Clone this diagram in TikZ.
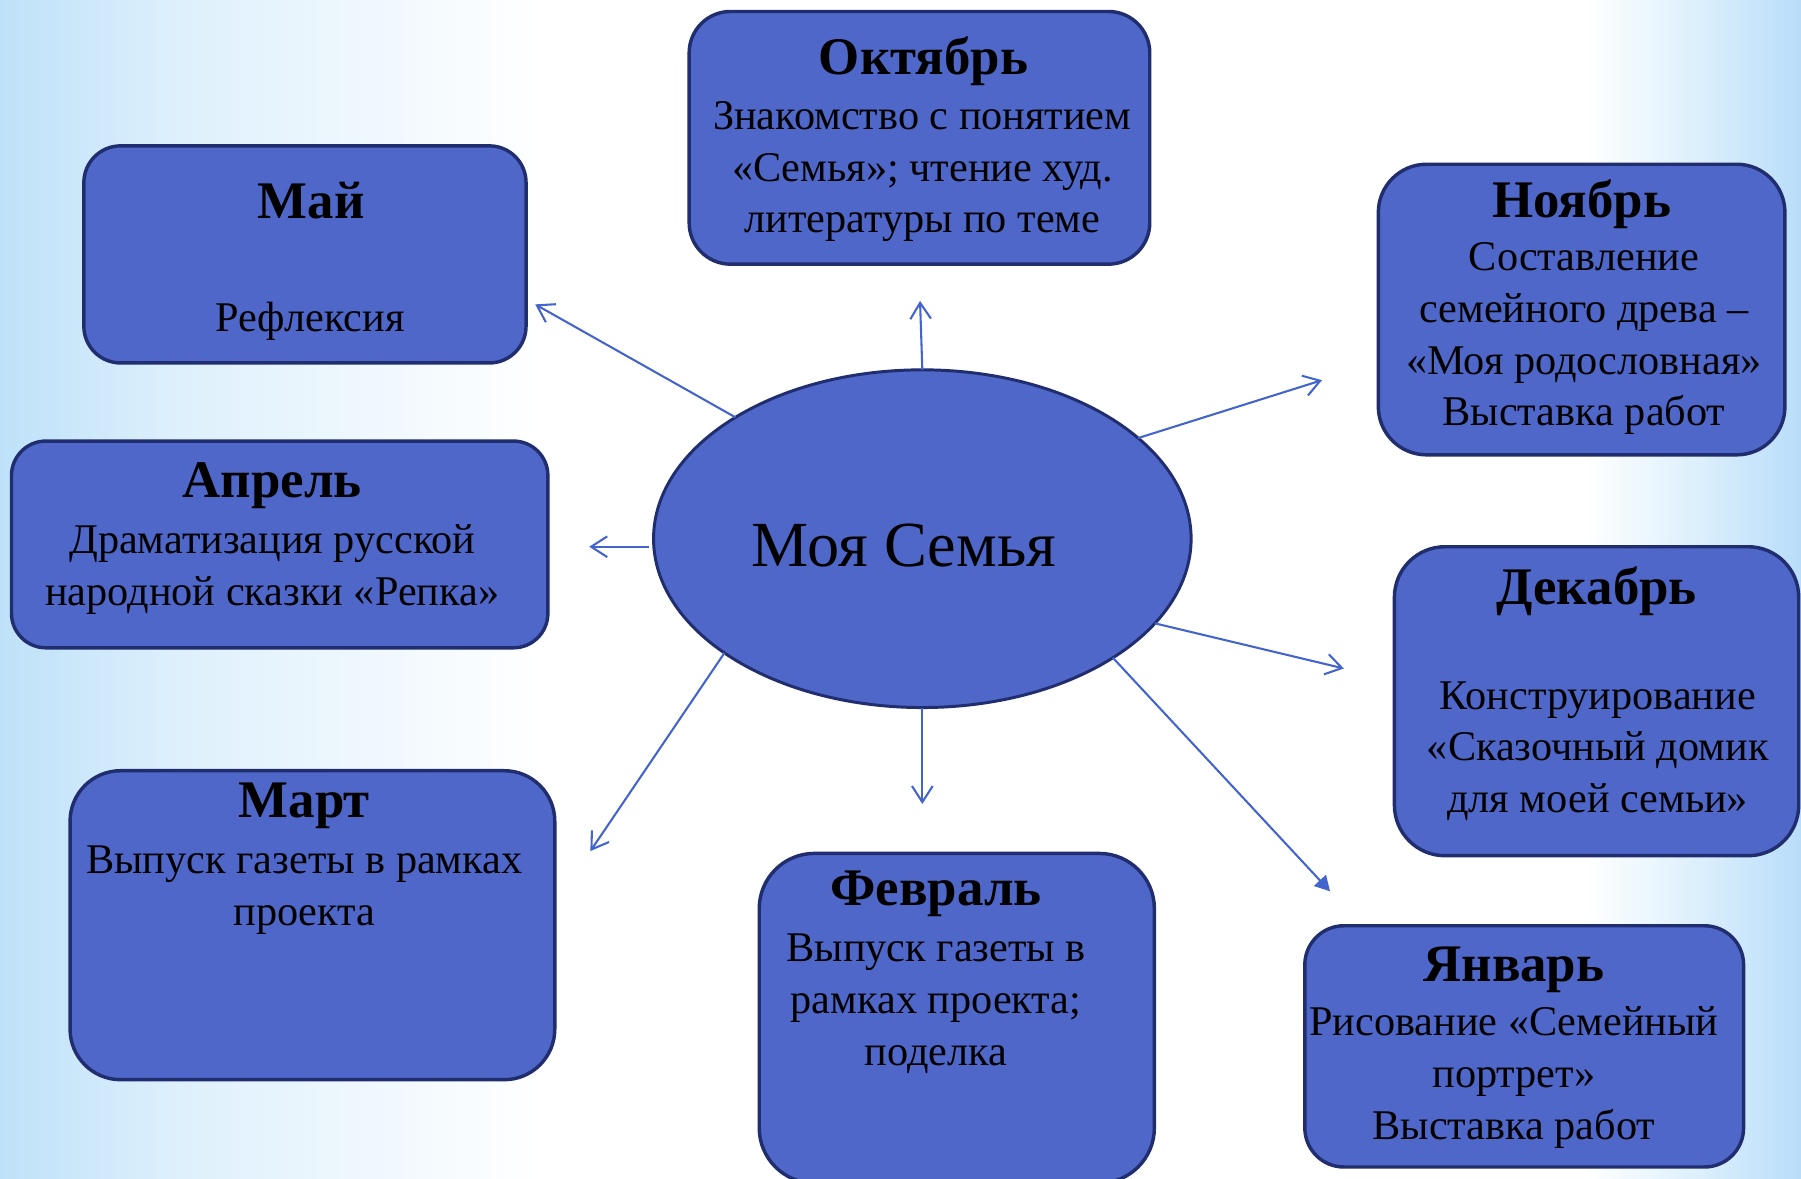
\documentclass[tikz,border=0pt]{standalone}
\usepackage{fontspec}
\setmainfont{Liberation Serif}
\usetikzlibrary{arrows.meta,shapes.geometric,fadings}
\definecolor{boxfill}{RGB}{79,103,200}
\definecolor{boxline}{RGB}{32,46,112}
\definecolor{arrowc}{RGB}{68,100,205}
\definecolor{bgL}{RGB}{190,225,249}
\definecolor{bgL2}{RGB}{222,240,252}
\definecolor{bgR}{RGB}{184,221,250}
\definecolor{bandc}{RGB}{200,228,248}
\pgfdeclarehorizontalshading{bgshade}{100bp}{color(0bp)=(bgL); color(25bp)=(bgL); color(30bp)=(bgL2); color(40bp)=(white); color(69bp)=(white); color(72bp)=(bgL2); color(75bp)=(bgR); color(100bp)=(bgR)}
\tikzfading[name=bandfade, top color=transparent!100, middle color=transparent!35, bottom color=transparent!100]
\begin{document}
\begin{tikzpicture}[x=0.5pt,y=-0.5pt,
  box/.style={draw=boxline, line width=1.5pt, fill=boxfill, rounded corners=#1, inner sep=0pt, outer sep=0pt},
  ttl/.style={font=\fontsize{23}{27}\selectfont\bfseries, inner sep=0pt},
  txt/.style={font=\fontsize{18.4}{22.5}\selectfont, align=center, inner sep=0pt},
  arr/.style={draw=arrowc, line width=0.9pt, -{Straight Barb[length=7pt,width=9pt]}},
  arrF/.style={draw=arrowc, line width=0.9pt, -{Triangle[length=6.5pt,width=7pt]}}]
\useasboundingbox (0,0) rectangle (1568,1026);
\shade[shading=bgshade] (0,0) rectangle (1568,1026);
\fill[bandc, path fading=bandfade] (0,680) rectangle (1568,745);
\fill[bandc, path fading=bandfade, opacity=0.6] (0,575) rectangle (1568,615);

% boxes
\node[box=18pt, minimum width=200.5pt, minimum height=110pt] (bOkt) at (800.5,120) {};
\node[box=16pt, minimum width=192.5pt, minimum height=94.5pt] (bMay) at (265.5,221.5) {};
\node[box=21pt, minimum width=177pt, minimum height=126.5pt] (bNov) at (1377,269.5) {};
\node[box=15pt, minimum width=233.5pt, minimum height=90pt] (bApr) at (243.5,474) {};
\node[box=22pt, minimum width=176pt, minimum height=134.5pt] (bDec) at (1390,610.5) {};
\node[box=22pt, minimum width=211pt, minimum height=134.5pt] (bMar) at (272,805.5) {};
\node[box=24pt, minimum width=172pt, minimum height=143.5pt] (bFeb) at (833,886.5) {};
\node[box=17pt, minimum width=191pt, minimum height=105pt] (bJan) at (1327,911) {};

% ellipse
\node[ellipse, draw=boxline, line width=1.3pt, fill=boxfill, minimum width=234pt, minimum height=147pt, inner sep=0pt, outer sep=0pt] (ell) at (803,469) {};
\node[font=\fontsize{28}{34}\selectfont, inner sep=0pt] (center) at (787,475) {Моя Семья};

% titles
\node[ttl] (tOkt) at (804,53) {Октябрь};
\node[ttl] (tMay) at (271,175) {Май};
\node[ttl] (tNov) at (1377,178) {Ноябрь};
\node[ttl] (tApr) at (237,423) {Апрель};
\node[ttl] (tDec) at (1390,515) {Декабрь};
\node[ttl] (tMar) at (265,702) {Март};
\node[ttl] (tFeb) at (815,778) {Февраль};
\node[ttl] (tJan) at (1318,844) {Январь};

% bodies
\node[txt] (xOkt) at (803,149.5) {Знакомство с понятием\\«Семья»; чтение худ.\\литературы по теме};
\node[txt] (xMay) at (270,280) {Рефлексия};
\node[txt] (xNov) at (1379,295) {Составление\\семейного древа –\\«Моя родословная»\\Выставка работ};
\node[txt] (xApr) at (237,496) {Драматизация русской\\народной сказки «Репка»};
\node[txt] (xDec) at (1391,654) {Конструирование\\«Сказочный домик\\для моей семьи»};
\node[txt] (xMar) at (265,775) {Выпуск газеты в рамках\\проекта};
\node[txt] (xFeb) at (815,874) {Выпуск газеты в\\рамках проекта;\\поделка};
\node[txt] (xJan) at (1318,938) {Рисование «Семейный\\портрет»\\Выставка работ};

% arrow tips
\coordinate (pOkt) at (801,262);
\coordinate (pMay) at (466,265);
\coordinate (pNov) at (1151,331);
\coordinate (pApr) at (513,476);
\coordinate (pDec) at (1170,582);
\coordinate (pJan) at (1158,776);
\coordinate (pFeb) at (803,700);
\coordinate (pMar) at (514,741);

\draw[arr] (ell.90) -- (pOkt);
\draw[arr] (ell.147.7) -- (pMay);
\draw[arr] (ell.25.7) -- (pNov);
\draw[arr, shorten <=2pt] (ell.west |- pApr) -- (pApr);
\draw[arr] (ell.-20.4) -- (pDec);
\draw[arrF] (ell.-32.4) -- (pJan);
\draw[arr] (ell.-90) -- (pFeb);
\draw[arr] (ell.210.4) -- (pMar);
\end{tikzpicture}
\end{document}
